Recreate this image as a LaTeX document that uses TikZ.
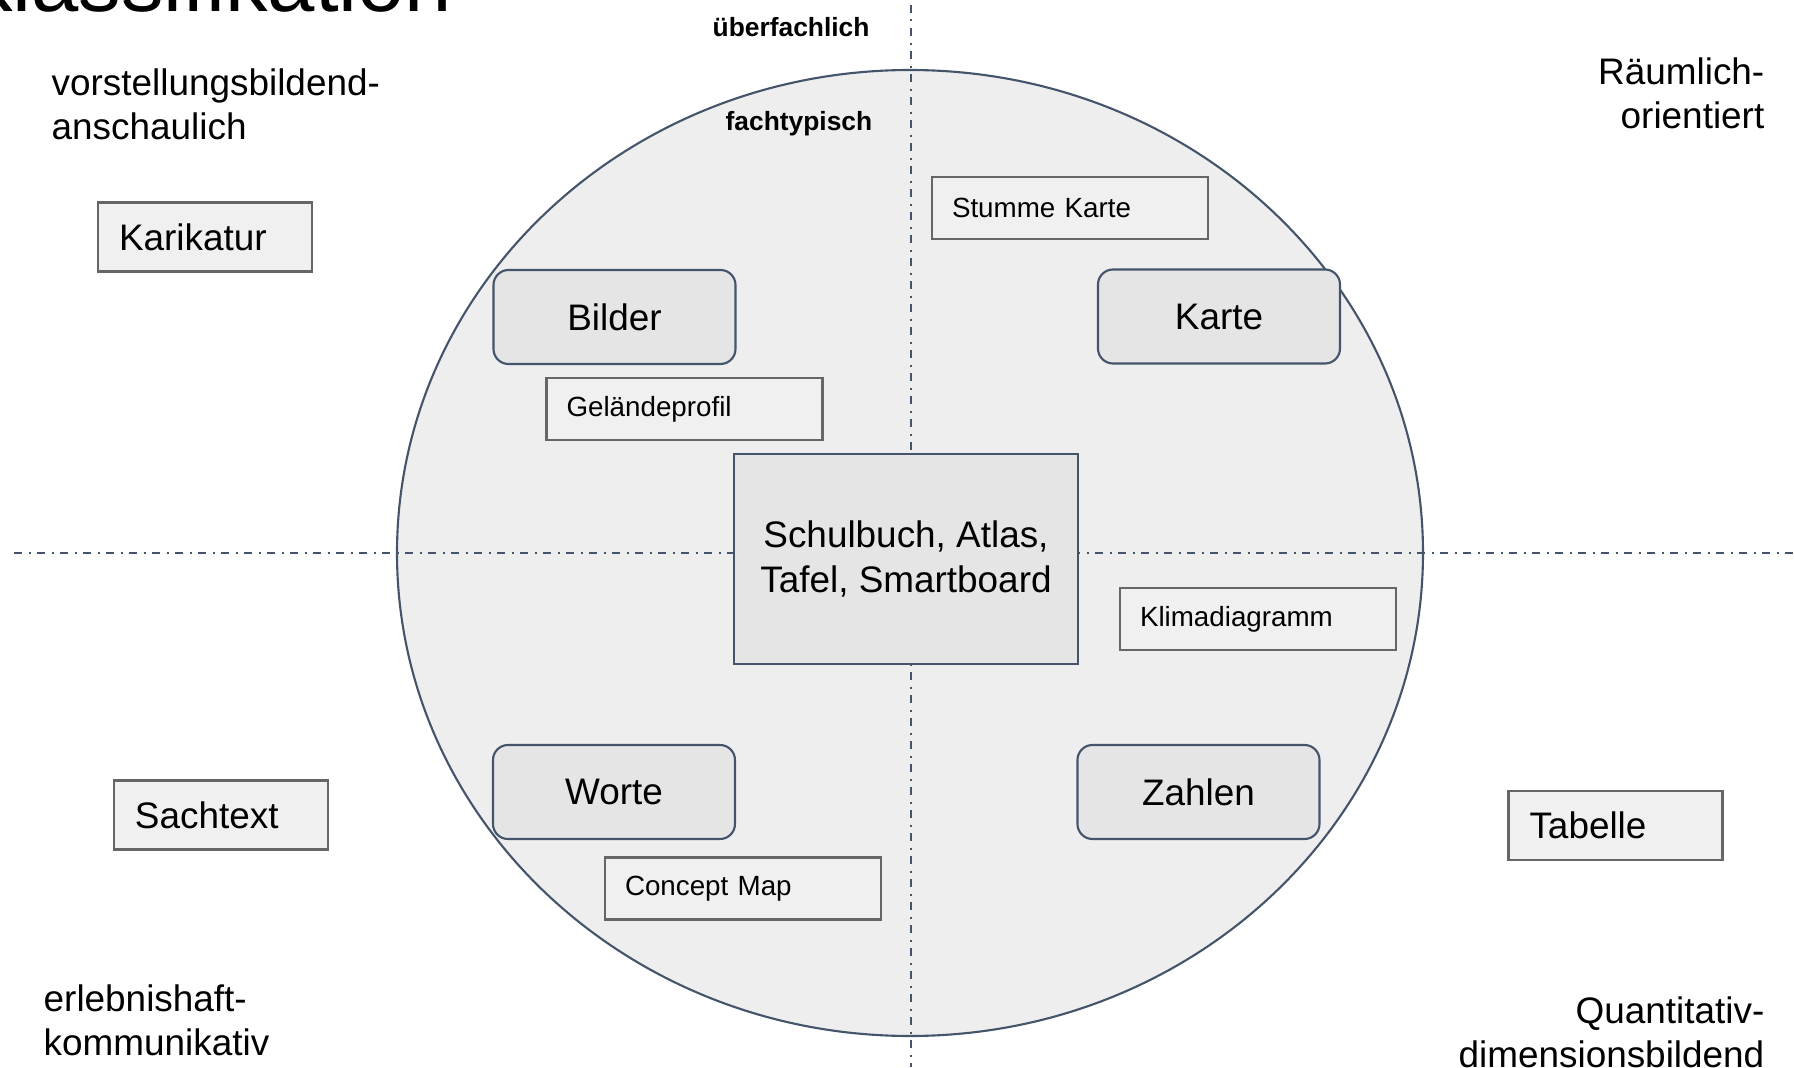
\documentclass[tikz,border=0pt]{standalone}
\usepackage{fontspec}
\setmainfont{Liberation Sans}
\usepackage{tikz}

\definecolor{slate}{HTML}{44546A}
\definecolor{circlefill}{HTML}{EEEEEE}
\definecolor{medfill}{HTML}{E5E5E5}
\definecolor{boxfill}{HTML}{F0F0F0}
\definecolor{boxgray}{HTML}{666666}

\begin{document}
\begin{tikzpicture}[
    bigbox/.style={draw=boxgray, fill=boxfill, line width=0.6pt, text width=1.72cm, align=left, inner xsep=0.21cm, inner ysep=0pt, minimum height=0.69cm, font=\fontsize{10.5}{12.6}\selectfont},
    smallbox/.style={draw=boxgray, fill=boxfill, line width=0.6pt, text width=2.36cm, align=left, inner xsep=0.2cm, inner ysep=0pt, minimum height=0.62cm, font=\fontsize{7.9}{9.5}\selectfont},
    medium/.style={draw=slate, fill=medfill, line width=0.6pt, rounded corners=0.15cm, minimum width=2.42cm, minimum height=0.94cm, font=\fontsize{10.5}{12.6}\selectfont},
    axis/.style={slate, line width=0.6pt, dash pattern=on 0.08cm off 0.065cm on 0.02cm off 0.065cm},
    corner/.style={inner sep=0pt, font=\fontsize{10.5}{12.5}\selectfont},
    tag/.style={inner sep=0pt, anchor=base west, font=\bfseries\fontsize{7.5}{9}\selectfont}
]
    \useasboundingbox (0,0) rectangle (17.94,10.67);
    \clip (0,0) rectangle (17.94,10.67);

    % Title (cut off at the top)
    \node[anchor=base east, inner sep=0pt, font=\fontsize{24.2}{29}\selectfont] (titel) at (4.53,10.55) {nklassifikation};

    % Draw the big circle
    \filldraw[fill=circlefill, draw=slate, line width=0.6pt] (9.10,5.14) ellipse [x radius=5.13cm, y radius=4.83cm];

    % Draw the two axes
    \coordinate (top) at (9.11,10.62);
    \coordinate (bottom) at (9.11,0);
    \coordinate (left) at (0.14,5.14);
    \coordinate (right) at (17.94,5.14);
    \draw[axis] (top) -- (bottom);
    \draw[axis] (left) -- (right);

    % Labels on the vertical axis
    \node[tag] (ueber) at (7.12,10.30) {überfachlich};
    \node[tag] (fach) at (7.25,9.37) {fachtypisch};

    % Corner labels
    \node[corner, anchor=north west, align=left] (vorst) at (0.51,9.99) {vorstellungsbildend-\\anschaulich};
    \node[corner, anchor=north east, align=right] (raum) at (17.65,10.10) {Räumlich-\\orientiert};
    \node[corner, anchor=north west, align=left] (erleb) at (0.43,0.83) {erlebnishaft-\\kommunikativ};
    \node[corner, anchor=north east, align=right] (quant) at (17.65,0.71) {Quantitativ-\\dimensionsbildend};

    % Media in the four quarters
    \node[medium] (bilder) at (6.145,7.50) {Bilder};
    \node[medium] (karte) at (12.19,7.505) {Karte};
    \node[medium] (worte) at (6.14,2.75) {Worte};
    \node[medium] (zahlen) at (11.985,2.75) {Zahlen};

    % Center box
    \node[draw=slate, fill=medfill, line width=0.6pt, minimum width=3.44cm, minimum height=2.10cm, align=center, font=\fontsize{10.5}{12.8}\selectfont] (mitte) at (9.06,5.08) {Schulbuch, Atlas,\\Tafel, Smartboard};

    % Examples inside the circle
    \node[smallbox] (gelaende) at (6.845,6.58) {Geländeprofil};
    \node[smallbox] (stumm) at (10.70,8.59) {Stumme Karte};
    \node[smallbox] (klima) at (12.58,4.48) {Klimadiagramm};
    \node[smallbox] (concept) at (7.43,1.785) {Concept Map};

    % Examples outside the circle
    \node[bigbox] (kari) at (2.05,8.30) {Karikatur};
    \node[bigbox] (sach) at (2.21,2.52) {Sachtext};
    \node[bigbox] (tab) at (16.155,2.415) {Tabelle};

\end{tikzpicture}
\end{document}
